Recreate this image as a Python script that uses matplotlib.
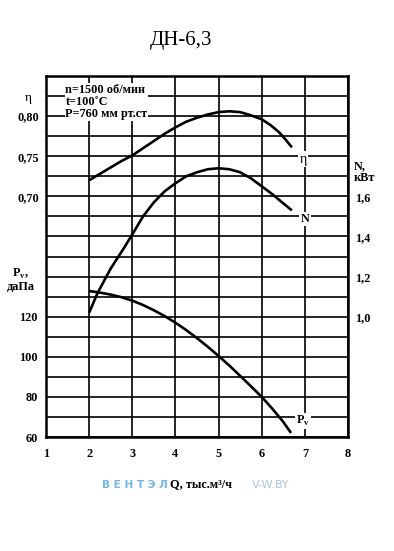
import matplotlib
matplotlib.use("Agg")
import matplotlib.pyplot as plt
import numpy as np

plt.rcParams["font.family"] = ["Liberation Serif", "DejaVu Serif"]
plt.rcParams["mathtext.fontset"] = "custom"
plt.rcParams["mathtext.rm"] = "Liberation Serif:bold"
plt.rcParams["mathtext.bf"] = "Liberation Serif:bold"

# Q, thousand m3/h -> efficiency
q_eta = [2.0, 2.25, 2.5, 2.75, 3.0, 3.25, 3.5, 3.75, 4.0, 4.25, 4.5, 4.75,
         5.0, 5.25, 5.5, 5.75, 6.0, 6.2, 6.4, 6.55, 6.7]
eta = [0.720, 0.728, 0.736, 0.744, 0.751, 0.760, 0.769, 0.778, 0.786, 0.793,
       0.798, 0.802, 0.805, 0.806, 0.805, 0.801, 0.796, 0.789, 0.780, 0.771, 0.761]

# power, kW
q_n = [2.0, 2.1, 2.2, 2.35, 2.5, 2.65, 2.8, 3.0, 3.25, 3.5, 3.75, 4.0, 4.25,
       4.5, 4.75, 5.0, 5.25, 5.5, 5.75, 6.0, 6.25, 6.5, 6.7]
n_kw = [1.02, 1.07, 1.12, 1.18, 1.24, 1.29, 1.34, 1.41, 1.50, 1.57, 1.625,
        1.665, 1.70, 1.72, 1.735, 1.74, 1.735, 1.72, 1.69, 1.65, 1.61, 1.565, 1.53]

# static pressure, daPa
q_pv = [2.0, 2.25, 2.5, 2.75, 3.0, 3.25, 3.5, 3.75, 4.0, 4.25, 4.5, 4.75,
        5.0, 5.25, 5.5, 5.75, 6.0, 6.25, 6.5, 6.68]
pv = [132.8, 132.0, 131.0, 129.7, 128.0, 125.8, 123.2, 120.3, 117.0, 113.3,
      109.3, 105.0, 100.4, 95.6, 90.5, 85.3, 80.0, 74.0, 67.5, 62.0]

x_ticks = [1, 2, 3, 4, 5, 6, 7, 8]
pv_ticks = [60, 80, 100, 120]
eta_ticks = [0.70, 0.75, 0.80]
n_ticks = [1.0, 1.2, 1.4, 1.6]

bold = dict(fontweight="bold", fontsize=8.8)

fig = plt.figure(figsize=(3.94, 5.51), dpi=100)
ax = fig.add_axes([46 / 394, 1 - 437 / 551, 302 / 394, 361 / 551])
ax.set_xlim(1, 8)
ax.set_ylim(60, 240)

# grid
ax.set_xticks(x_ticks)
ax.set_xticklabels([str(v) for v in x_ticks], **bold)
ax.set_yticks(np.arange(60, 241, 10))
ax.set_yticklabels([str(v) if v in pv_ticks else "" for v in range(60, 241, 10)], **bold)
ax.tick_params(length=0, pad=6)
ax.tick_params(axis="x", pad=8)
ax.grid(True, color="black", linewidth=1.2)
for s in ax.spines.values():
    s.set_linewidth(1.8)

# efficiency axis (left, no spine)
ax_eta = ax.twinx()
ax_eta.set_ylim(0.40, 0.85)
ax_eta.yaxis.tick_left()
ax_eta.set_yticks(eta_ticks)
ax_eta.set_yticklabels([f"{v:.2f}".replace(".", ",") for v in eta_ticks], **bold)
ax_eta.tick_params(length=0, pad=5)
for s in ax_eta.spines.values():
    s.set_visible(False)

# power axis (right)
ax_n = ax.twinx()
ax_n.set_ylim(0.4, 2.2)
ax_n.set_yticks(n_ticks)
ax_n.set_yticklabels([f"{v:.1f}".replace(".", ",") for v in n_ticks], **bold)
ax_n.tick_params(length=0, pad=5)
for s in ax_n.spines.values():
    s.set_visible(False)

ax_eta.plot(q_eta, eta, color="black", linewidth=1.9, solid_capstyle="butt")
ax_n.plot(q_n, n_kw, color="black", linewidth=1.9, solid_capstyle="butt")
ax.plot(q_pv, pv, color="black", linewidth=1.9, solid_capstyle="butt")

box = dict(facecolor="white", edgecolor="none", pad=1.0)
ax.text(6.96, 198.6, "η", ha="center", va="center", fontsize=10, bbox=box)
ax.text(7.0, 168.7, "N", ha="center", va="center", bbox=box, **bold)
ax.text(6.96, 68, r"P$_\mathregular{v}$", ha="center", va="center", bbox=box, **bold)

ax.text(1.45, 227, "n=1500 об/мин\nt=100˚C\nP=760 мм рт.ст", ha="left", va="center",
        linespacing=1.0, bbox=dict(facecolor="white", edgecolor="none", pad=0.5), **bold)

# axis captions outside the plot
ax.text(-0.06, 0.94, "η", transform=ax.transAxes, ha="center", va="center", fontsize=9.5)
ax.text(-0.085, 0.435, r"P$_\mathregular{v}$," + "\nдаПа", transform=ax.transAxes,
        ha="center", va="center", linespacing=0.95, **bold)
ax.text(1.02, 0.734, "N,\nкВт", transform=ax.transAxes, ha="left", va="center",
        linespacing=0.95, **bold)

fig.text(181 / 394, 1 - 40 / 551, "ДН-6,3", ha="center", va="center", fontsize=15)
fig.text(102 / 394, 1 - 485 / 551, "В Е Н Т Э Л", ha="left", va="center",
         fontsize=7.6, color="#74b6e2", family="DejaVu Sans", fontweight="bold")
fig.text(201 / 394, 1 - 484 / 551, "Q, тыс.м³/ч", ha="center", va="center", **bold)
fig.text(252 / 394, 1 - 485 / 551, "V-W.BY", ha="left", va="center",
         fontsize=8, color="#a9c6e2", family="DejaVu Sans")

fig.savefig("out.png", dpi=100, facecolor="white")
